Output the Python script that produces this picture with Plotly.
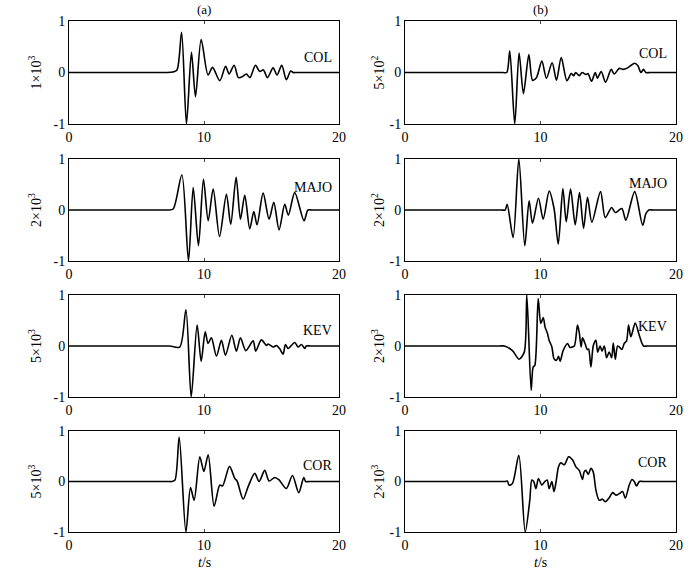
import plotly.graph_objects as go

# ---- waveform samples (t in s, normalised amplitude) ----
col_a_t = [0, 6.9, 7.2, 7.7, 8.0, 8.34, 8.7, 9.07, 9.37, 9.79, 10.3, 10.63, 11.17, 11.6, 11.86, 12.23, 12.55,
           12.85, 13.14, 13.4, 13.81, 14.13, 14.4, 14.7, 15.12, 15.41, 15.76, 16.1, 16.42, 16.6, 16.9, 20]
col_a_y = [0, 0, 0, 0.01, 0.05, 0.78, -1.0, 0.39, -0.47, 0.64, -0.05, 0.1, -0.16, 0.12, -0.03, 0.14, -0.1,
           -0.08, -0.03, -0.1, 0.14, 0.02, 0.05, -0.1, 0.09, -0.05, 0.14, -0.14, 0.03, 0, 0, 0]

col_b_t = [0, 7.2, 7.51, 7.73, 8.1, 8.42, 8.74, 9.14, 9.41, 9.7, 10.1, 10.44, 10.86, 11.18, 11.53, 11.95, 12.27,
           12.45, 12.6, 12.86, 13.08, 13.35, 13.5, 13.77, 14.04, 14.2, 14.48, 14.8, 15.22, 15.44, 15.81, 16.1,
           16.43, 16.95, 17.19, 17.41, 17.6, 17.78, 18.1, 20]
col_b_y = [0, 0, 0, 0.42, -1.0, 0.38, -0.41, 0.35, -0.15, -0.1, 0.22, -0.11, 0.19, -0.15, 0.29, -0.16, -0.02,
           -0.06, 0.0, -0.06, 0.0, -0.04, -0.02, -0.17, 0.0, -0.11, 0.02, -0.19, 0.06, -0.03, 0.08, 0.06,
           0.09, 0.18, 0.13, 0.0, 0.06, 0, 0, 0]

majo_a_t = [0, 7.05, 7.35, 7.72, 8.36, 8.85, 9.2, 9.59, 9.96, 10.31, 10.68, 11.15, 11.66, 11.98, 12.38, 12.7,
            13.02, 13.39, 13.69, 13.93, 14.38, 14.82, 15.17, 15.56, 15.98, 16.25, 16.72, 17.41, 17.7, 18.0, 20]
majo_a_y = [0, 0, 0, 0.02, 0.69, -1.0, 0.44, -0.7, 0.6, -0.21, 0.41, -0.52, 0.31, -0.28, 0.64, -0.18,
            0.29, -0.37, -0.03, -0.29, 0.33, -0.18, 0.15, -0.39, 0.11, -0.1, 0.34, -0.21, 0, 0, 0]

majo_b_t = [0, 7.1, 7.39, 7.54, 7.98, 8.4, 8.84, 9.16, 9.41, 9.85, 10.2, 10.64, 11.0, 11.31, 11.65, 11.9,
            12.22, 12.56, 12.88, 13.18, 13.47, 13.79, 14.43, 14.78, 15.25, 15.52, 16.0, 16.3, 16.95, 17.54,
            17.78, 18.0, 18.3, 20]
majo_b_y = [0, 0, 0, 0.11, -0.54, 1.0, -0.7, 0.18, -0.26, 0.23, -0.18, 0.37, 0.03, -0.67, 0.42, -0.23,
            0.41, -0.29, 0.34, -0.36, 0.25, -0.24, 0.36, -0.15, 0.05, -0.05, 0.03, -0.2, 0.36, -0.3,
            -0.07, 0, 0, 0]

kev_a_t = [0, 7.17, 7.47, 8.2, 8.66, 9.05, 9.49, 9.79, 10.09, 10.3, 10.55, 10.92, 11.29, 11.59, 12.06, 12.4,
           12.7, 13.1, 13.64, 13.83, 14.25, 14.63, 14.75, 15.12, 15.37, 15.6, 15.86, 16.03, 16.23, 16.72,
           16.97, 17.22, 17.46, 17.58, 17.88, 20]
kev_a_y = [0, 0, 0, -0.02, 0.71, -1.0, 0.41, -0.3, 0.28, 0.05, 0.16, -0.2, 0.11, -0.18, 0.21, -0.1,
           0.16, -0.09, 0.1, -0.1, 0.12, 0.01, 0.04, -0.02, 0.01, -0.05, -0.16, 0.03, -0.05, 0.07,
           -0.02, 0.03, -0.05, 0, 0, 0]

kev_b_t = [0, 7.0, 7.32, 7.93, 8.42, 8.8, 8.99, 9.31, 9.46, 9.58, 9.83, 10.02, 10.2, 10.34, 10.52, 10.64,
           10.84, 11.0, 11.18, 11.33, 11.45, 11.67, 12.0, 12.17, 12.32, 12.5, 12.73, 12.85, 13.0, 13.1,
           13.3, 13.45, 13.55, 13.72, 13.9, 14.09, 14.22, 14.4, 14.54, 14.71, 14.88, 15.07, 15.25,
           15.37, 15.52, 15.69, 15.86, 16.01, 16.18, 16.35, 16.5, 16.67, 16.99, 17.29, 17.6, 17.9, 20]
kev_b_y = [0, 0, 0, -0.09, -0.26, -0.12, 1.0, -0.87, -0.41, -0.38, 0.93, 0.44, 0.56, 0.37, 0.24, 0.11,
           -0.02, -0.25, -0.28, -0.2, -0.3, -0.09, 0.05, -0.03, -0.02, 0.0, 0.41, 0.28, -0.02, 0.16,
           0.04, -0.07, -0.06, -0.41, 0.01, 0.11, -0.12, 0.0, -0.1, 0.0, -0.23, -0.12, -0.23,
           0.06, -0.26, 0.0, -0.03, -0.07, 0.05, 0.1, 0.41, 0.18, 0.45, 0.21, 0, 0, 0]

cor_a_t = [0, 7.3, 7.6, 7.85, 8.16, 8.66, 9.0, 9.27, 9.69, 9.99, 10.31, 10.75, 11.17, 11.37, 11.89, 12.28,
           12.45, 12.9, 13.27, 13.76, 14.08, 14.5, 14.82, 15.24, 15.56, 16.1, 16.55, 17.02, 17.39, 17.53,
           17.83, 20]
cor_a_y = [0, 0, 0, 0.03, 0.88, -1.0, -0.12, -0.37, 0.49, 0.2, 0.53, -0.49, -0.07, -0.09, 0.3, 0.06,
           0.01, -0.35, -0.1, 0.16, 0.0, 0.22, 0.01, 0.08, 0.03, -0.14, 0.12, -0.22, 0.08, 0,
           0, 0]

cor_b_t = [0, 7.1, 7.39, 7.55, 7.68, 7.93, 8.4, 8.87, 9.21, 9.36, 9.5, 9.66, 9.85, 10.1, 10.32, 10.49,
           10.64, 10.84, 10.99, 11.13, 11.33, 11.5, 11.75, 11.87, 12.07, 12.36, 12.61, 12.86, 13.1,
           13.22, 13.35, 13.52, 13.72, 13.89, 14.09, 14.33, 14.58, 14.78, 15.07, 15.32, 15.57, 15.81,
           16.06, 16.26, 16.55, 16.75, 16.92, 17.09, 17.29, 17.59, 20]
cor_b_y = [0, 0, 0, 0.01, -0.07, -0.04, 0.52, -1.0, -0.37, 0.03, 0.0, -0.14, 0.06, -0.07, 0.0, 0.03,
           -0.14, 0.0, -0.2, -0.04, 0.29, 0.37, 0.33, 0.38, 0.49, 0.43, 0.29, 0.22, 0.04,
           0.19, 0.22, 0.14, 0.26, 0.19, -0.17, -0.37, -0.35, -0.4, -0.32, -0.22, -0.27, -0.24,
           -0.2, -0.33, -0.07, 0.04, 0.0, -0.09, 0, 0, 0]

stations = ["COL", "MAJO", "KEV", "COR"]
scale_a = ["1×10<sup>3</sup>", "2×10<sup>3</sup>", "5×10<sup>3</sup>", "5×10<sup>3</sup>"]
scale_b = ["5×10<sup>2</sup>", "2×10<sup>2</sup>", "2×10<sup>3</sup>", "2×10<sup>3</sup>"]
label_y_a = [0.30, 0.44, 0.31, 0.31]
label_y_b = [0.36, 0.51, 0.39, 0.37]

traces_a = [(col_a_t, col_a_y), (majo_a_t, majo_a_y), (kev_a_t, kev_a_y), (cor_a_t, cor_a_y)]
traces_b = [(col_b_t, col_b_y), (majo_b_t, majo_b_y), (kev_b_t, kev_b_y), (cor_b_t, cor_b_y)]

W, H = 692, 577
FONT = "Liberation Serif, Times New Roman, serif"
col_px = [(69, 339), (405, 676)]
row_px = [(21, 124), (159, 261), (295, 397), (431, 532)]
ytitle_px = [35, 378]

fig = go.Figure()
layout = dict(width=W, height=H, margin=dict(l=0, r=0, t=0, b=0),
              paper_bgcolor="white", plot_bgcolor="white", showlegend=False,
              font=dict(family=FONT, size=14, color="black"))
annotations = []

n = 0
for r in range(4):
    for c in range(2):
        n += 1
        ax = "" if n == 1 else str(n)
        t, y = (traces_a if c == 0 else traces_b)[r]
        fig.add_trace(go.Scatter(x=t, y=y, mode="lines", xaxis="x" + ax, yaxis="y" + ax,
                                 line=dict(color="black", width=1.6, shape="spline", smoothing=0.8)))
        x0, x1 = col_px[c]
        y0, y1 = row_px[r]
        layout["xaxis" + ax] = dict(domain=[x0 / W, x1 / W], range=[0, 20], anchor="y" + ax,
                                    tickvals=[0, 10, 20], ticks="inside", ticklen=3,
                                    showline=True, mirror="ticks", linecolor="black", linewidth=1,
                                    showgrid=False, zeroline=False, tickfont=dict(size=14),
                                    automargin=False)
        layout["yaxis" + ax] = dict(domain=[1 - y1 / H, 1 - y0 / H], range=[-1, 1], anchor="x" + ax,
                                    tickvals=[-1, 0, 1], ticktext=["-1", "0", "1"], ticks="",
                                    showline=True, mirror=True, linecolor="black", linewidth=1,
                                    showgrid=False, zeroline=False, tickfont=dict(size=14),
                                    automargin=False)
        # amplitude scale written beside each panel
        annotations.append(dict(x=ytitle_px[c] / W, y=1 - (y0 + y1) / 2 / H, xref="paper", yref="paper",
                                text=(scale_a if c == 0 else scale_b)[r], textangle=-90, showarrow=False,
                                xanchor="center", yanchor="middle", font=dict(size=14)))
        annotations.append(dict(x=19.65 if c == 0 else 19.45,
                                y=(label_y_a if c == 0 else label_y_b)[r],
                                xref="x" + ax, yref="y" + ax, text=stations[r], showarrow=False,
                                xanchor="right", yanchor="middle", font=dict(size=14)))

for c, lab in enumerate(["(a)", "(b)"]):
    xc = (col_px[c][0] + col_px[c][1]) / 2 / W
    annotations.append(dict(x=xc, y=1 - 10 / H, xref="paper", yref="paper", text=lab,
                            showarrow=False, xanchor="center", yanchor="middle", font=dict(size=13)))
    annotations.append(dict(x=xc, y=1 - 562 / H, xref="paper", yref="paper", text="<i>t</i>/s",
                            showarrow=False, xanchor="center", yanchor="middle", font=dict(size=14)))

layout["annotations"] = annotations
fig.update_layout(**layout)
# drop the page's default body margin so the figure sits at the window's corner
fig.write_html("out.html", config={"displayModeBar": False},
               post_script="document.body.style.margin='0px';")
